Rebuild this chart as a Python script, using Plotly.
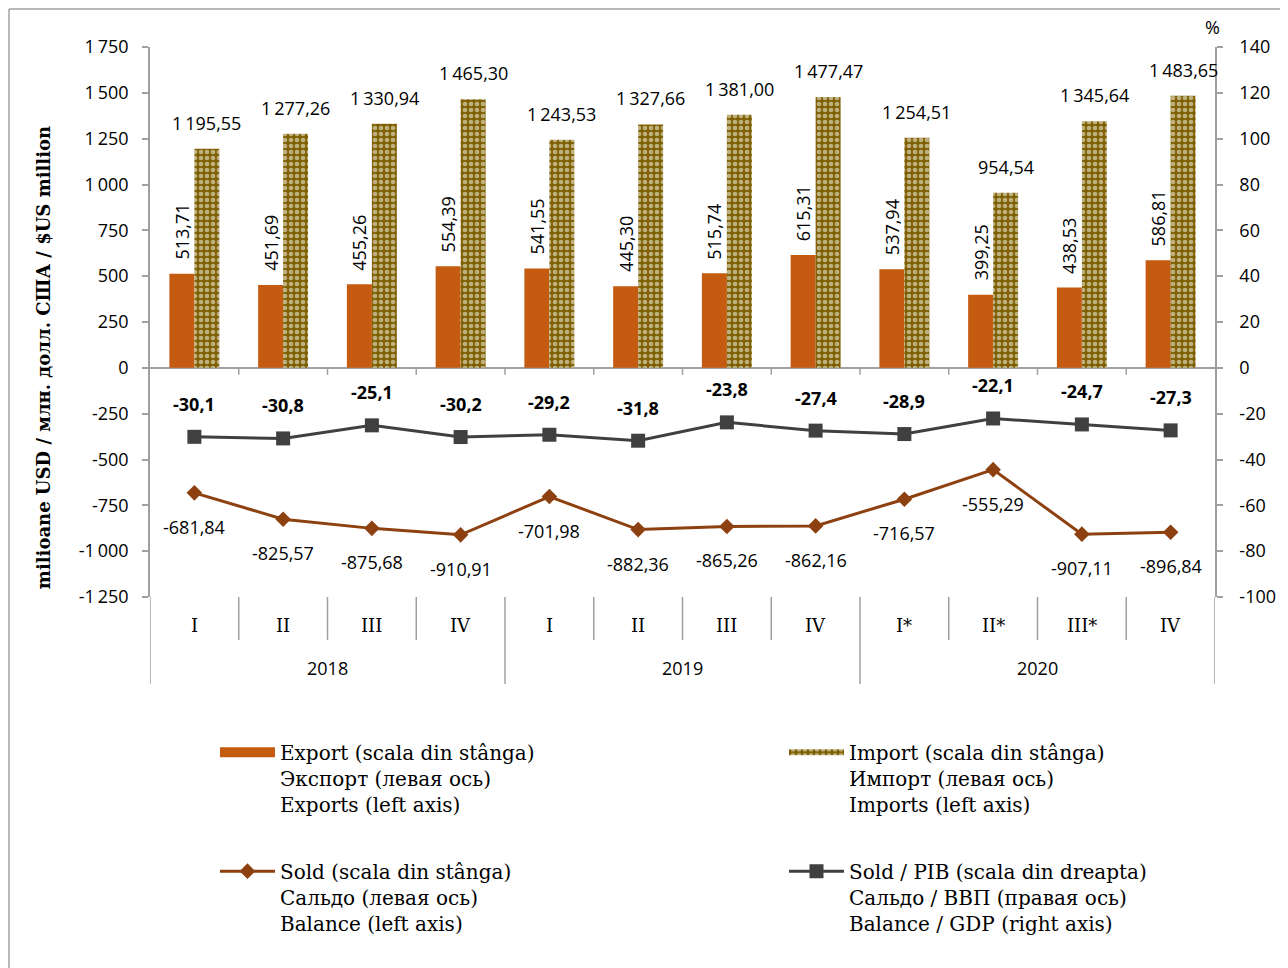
import plotly.graph_objects as go

quarters = ["I", "II", "III", "IV", "I", "II", "III", "IV", "I*", "II*", "III*", "IV"]
years = ["2018", "2019", "2020"]
export = [513.71, 451.69, 455.26, 554.39, 541.55, 445.30, 515.74, 615.31, 537.94, 399.25, 438.53, 586.81]
imports = [1195.55, 1277.26, 1330.94, 1465.30, 1243.53, 1327.66, 1381.00, 1477.47, 1254.51, 954.54, 1345.64, 1483.65]
balance = [-681.84, -825.57, -875.68, -910.91, -701.98, -882.36, -865.26, -862.16, -716.57, -555.29, -907.11, -896.84]
balance_gdp = [-30.1, -30.8, -25.1, -30.2, -29.2, -31.8, -23.8, -27.4, -28.9, -22.1, -24.7, -27.3]
left_ticks = [-1250, -1000, -750, -500, -250, 0, 250, 500, 750, 1000, 1250, 1500, 1750]
right_ticks = [-100, -80, -60, -40, -20, 0, 20, 40, 60, 80, 100, 120, 140]

C_EXP = "#C55A11"
C_IMP = "#7F6000"
C_BAL = "#8E4110"
C_GDP = "#404040"
C_AX = "#A0A0A0"
SANS = "Open Sans"
SERIF = "DejaVu Serif"

IMP_PATTERN = dict(shape=".", fgcolor="white", bgcolor=C_IMP, size=6, solidity=0.48)

NAMES = [
    "Export (scala din stânga)<br>Экспорт (левая ось)<br>Exports (left axis)",
    "Import (scala din stânga)<br>Импорт (левая ось)<br>Imports (left axis)",
    "Sold (scala din stânga)<br>Сальдо (левая ось)<br>Balance (left axis)",
    "Sold / PIB (scala din dreapta)<br>Сальдо / ВВП (правая ось)<br>Balance / GDP (right axis)",
]


def fmt(v, dec=2):
    s = f"{abs(v):,.{dec}f}".replace(",", "X").replace(".", ",").replace("X", "\u2009")
    return ("-" if v < 0 else "") + s


x = list(range(len(quarters)))

fig = go.Figure()
fig.add_trace(go.Bar(
    x=x, y=export, name=NAMES[0], showlegend=False,
    marker=dict(color=C_EXP, line=dict(width=0)),
))
fig.add_trace(go.Bar(
    x=x, y=imports, name=NAMES[1], showlegend=False,
    marker=dict(color=C_IMP, line=dict(width=0), pattern=IMP_PATTERN),
))
# legend entries for the bar series (wide swatches like the original)
fig.add_trace(go.Scatter(
    x=[None], y=[None], mode="lines", line=dict(color=C_EXP, width=13), name=NAMES[0], legend="legend",
))
fig.add_trace(go.Scatter(
    x=[None], y=[None], mode="none", fill="toself", fillcolor=C_IMP, fillpattern=IMP_PATTERN,
    name=NAMES[1], legend="legend2",
))
fig.add_trace(go.Scatter(
    x=x, y=balance, mode="lines+markers", name=NAMES[2],
    line=dict(color=C_BAL, width=3), marker=dict(symbol="diamond", size=12, color=C_BAL),
    legend="legend3",
))
fig.add_trace(go.Scatter(
    x=x, y=balance_gdp, mode="lines+markers", yaxis="y2", name=NAMES[3],
    line=dict(color=C_GDP, width=3), marker=dict(symbol="square", size=14, color=C_GDP),
    legend="legend4",
))

ann = []
for i in x:
    ann.append(dict(x=i - 0.14, y=export[i], xref="x", yref="y", text=fmt(export[i]), textangle=-90,
                    showarrow=False, yanchor="bottom", xanchor="center", yshift=12,
                    font=dict(family=SANS, size=18, color="black")))
    ann.append(dict(x=i + 0.14, y=imports[i], xref="x", yref="y", text=fmt(imports[i]),
                    showarrow=False, yanchor="bottom", xanchor="center", yshift=12,
                    font=dict(family=SANS, size=18, color="black")))
    ann.append(dict(x=i, y=balance[i], xref="x", yref="y", text=fmt(balance[i]),
                    showarrow=False, yanchor="top", xanchor="center", yshift=-20,
                    font=dict(family=SANS, size=18, color="black")))
    ann.append(dict(x=i, y=balance_gdp[i], xref="x", yref="y2", text="<b>" + fmt(balance_gdp[i], 1) + "</b>",
                    showarrow=False, yanchor="bottom", xanchor="center", yshift=19,
                    font=dict(family=SANS, size=18, color="black")))
    ann.append(dict(x=i, y=-0.051, xref="x", yref="paper", text=quarters[i], showarrow=False,
                    yanchor="middle", xanchor="center", font=dict(family=SERIF, size=18, color="black")))
for k, yr in enumerate(years):
    ann.append(dict(x=4 * k + 1.5, y=-0.129, xref="x", yref="paper", text=yr, showarrow=False,
                    yanchor="middle", xanchor="center", font=dict(family=SANS, size=18, color="black")))
ann.append(dict(x=0.998, y=1.036, xref="paper", yref="paper", text="%", showarrow=False,
                yanchor="middle", xanchor="center", font=dict(family=SANS, size=18, color="black")))
# left axis title
ann.append(dict(x=-0.1005, y=0.436, xref="paper", yref="paper", textangle=-90, showarrow=False,
                text="<b>milioane USD / млн. долл. США / $US million</b>",
                xanchor="center", yanchor="middle", font=dict(family=SERIF, size=18, color="black")))

shapes = []
for i in range(len(quarters) - 1):
    b = i + 0.5
    shapes.append(dict(type="line", xref="x", yref="y", x0=b, x1=b, y0=0, y1=-38,
                       line=dict(color=C_AX, width=1.5)))
    if (i + 1) % 4 != 0:
        shapes.append(dict(type="line", xref="x", yref="paper", x0=b, x1=b, y0=0, y1=-0.078,
                           line=dict(color=C_AX, width=1.5)))
for b in [-0.5, 3.5, 7.5, 11.5]:
    shapes.append(dict(type="line", xref="x", yref="paper", x0=b, x1=b, y0=0, y1=-0.158,
                       line=dict(color=C_AX, width=1.5)))
# outer frame (top and left edges)
fx = (1 - 142) / 1065
fy = (960 - 371 - 1) / 550
shapes.append(dict(type="line", xref="paper", yref="paper", x0=fx, x1=1.3, y0=fy, y1=fy,
                   line=dict(color=C_AX, width=1.5)))
shapes.append(dict(type="line", xref="paper", yref="paper", x0=fx, x1=fx, y0=fy, y1=-0.8,
                   line=dict(color=C_AX, width=1.5)))

leg_common = dict(xanchor="left", yanchor="top", valign="top", bgcolor="rgba(0,0,0,0)",
                  font=dict(family=SERIF, size=20, color="black"), itemwidth=55, borderwidth=0)

fig.update_layout(
    width=1280, height=960,
    margin=dict(l=142, r=73, t=39, b=371),
    paper_bgcolor="white", plot_bgcolor="white",
    barmode="group", bargap=0.437, bargroupgap=0,
    showlegend=True,
    legend=dict(x=0.061, y=-0.247, **leg_common),
    legend2=dict(x=0.5953, y=-0.247, **leg_common),
    legend3=dict(x=0.061, y=-0.463, **leg_common),
    legend4=dict(x=0.5953, y=-0.463, **leg_common),
    xaxis=dict(range=[-0.5, 11.5], showticklabels=False, showgrid=False, zeroline=False,
               showline=False, ticks=""),
    yaxis=dict(range=[-1250, 1750], tickvals=left_ticks, ticktext=[fmt(v, 0) for v in left_ticks],
               showgrid=False, zeroline=True, zerolinecolor=C_AX, zerolinewidth=1.5,
               showline=True, linecolor=C_AX, linewidth=1.5, ticks="outside", ticklen=6,
               tickcolor=C_AX, tickwidth=1.5, ticklabelstandoff=10,
               tickfont=dict(family=SANS, size=18, color="black")),
    yaxis2=dict(range=[-100, 140], tickvals=right_ticks, ticktext=[fmt(v, 0) for v in right_ticks],
                overlaying="y", side="right", showgrid=False, zeroline=False,
                showline=True, linecolor=C_AX, linewidth=1.5, ticks="outside", ticklen=6,
                tickcolor=C_AX, tickwidth=1.5, ticklabelstandoff=13,
                tickfont=dict(family=SANS, size=18, color="black")),
    annotations=ann, shapes=shapes,
)

fig.write_html("out.html")
